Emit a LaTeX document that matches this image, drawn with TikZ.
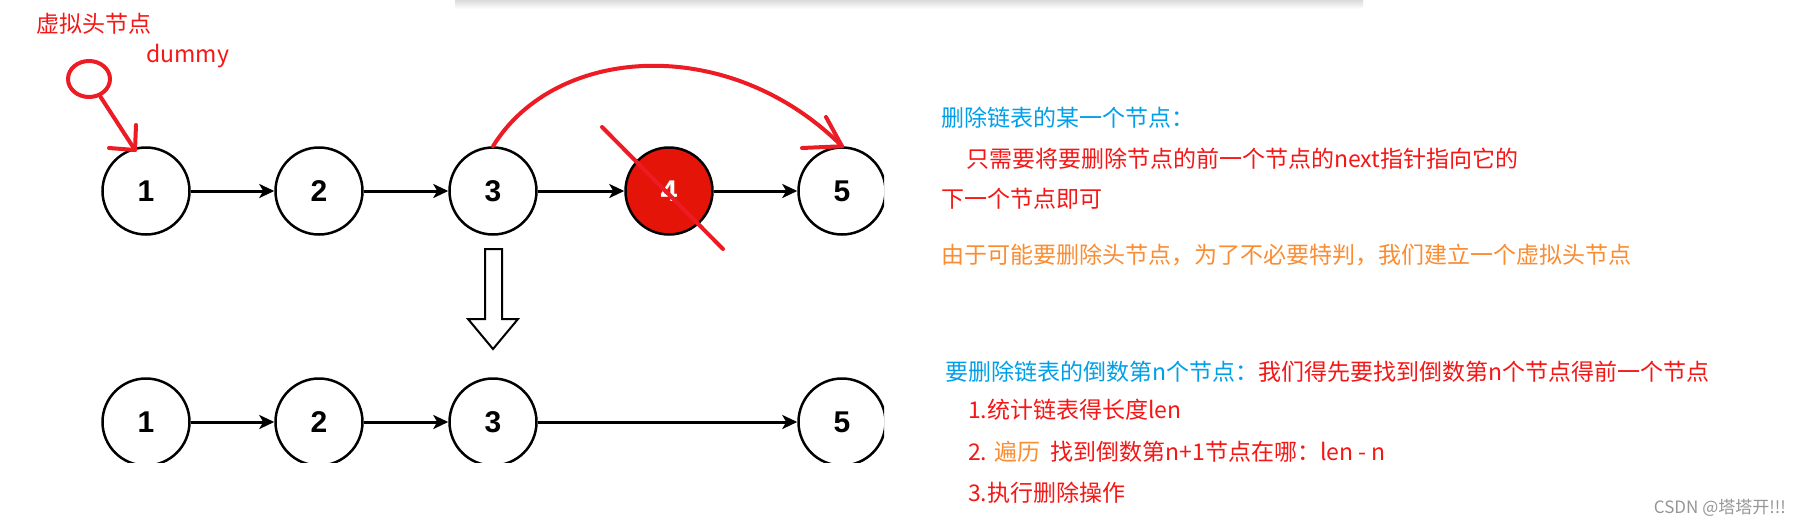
\documentclass[tikz,border=0pt]{standalone}
\usepackage{fontspec}
\newfontfamily\cjk{Noto Sans CJK SC}
\newfontfamily\arialf{Liberation Sans}
\usetikzlibrary{arrows.meta,shapes.geometric,shadings}
\definecolor{annred}{RGB}{237,28,36}
\definecolor{txtred}{RGB}{245,22,22}
\definecolor{txtblue}{RGB}{0,160,233}
\definecolor{txtorange}{RGB}{250,140,50}
\definecolor{nodered}{RGB}{228,20,8}
\definecolor{wmgray}{RGB}{150,150,150}
\tikzset{
  lnode/.style={circle, draw=black, line width=2.5pt, minimum size=87pt, inner sep=0pt, fill=white,
    font=\arialf\bfseries\fontsize{30}{30}\selectfont},
  link/.style={line width=3pt, -{Stealth[length=15pt,width=14pt,inset=4pt]}},
  txt/.style={anchor=base west, inner sep=0pt, font=\cjk\fontsize{23}{27}\selectfont},
  ann/.style={draw=annred, line width=4pt, line cap=round, line join=round},
}
\begin{document}
\begin{tikzpicture}[x=1pt,y=-1pt]
\useasboundingbox (0,0) rectangle (1803,528);
\fill[white] (0,0) rectangle (1803,528);
\shade[top color=black!14, bottom color=white] (455,0) rectangle (1363,9);

\begin{scope}
\clip (80,120) rectangle (884,462);
\node[lnode] (a1) at (146,191) {1};
\node[lnode] (a2) at (319,191) {2};
\node[lnode] (a3) at (493,191) {3};
\node[lnode, fill=nodered, text=white] (a4) at (669,191) {4};
\node[lnode] (a5) at (842,191) {5};
\draw[link] (a1) -- (a2);
\draw[link] (a2) -- (a3);
\draw[link] (a3) -- (a4);
\draw[link] (a4) -- (a5);

\node[lnode] (b1) at (146,422) {1};
\node[lnode] (b2) at (319,422) {2};
\node[lnode] (b3) at (493,422) {3};
\node[lnode] (b5) at (842,422) {5};
\draw[link] (b1) -- (b2);
\draw[link] (b2) -- (b3);
\draw[link] (b3) -- (b5);
\end{scope}

% hollow down arrow
\draw[line width=2pt, line join=miter] (485,249) -- (502,249) -- (502,319) -- (518,319) -- (493,349) -- (468,319) -- (485,319) -- cycle;

% dummy annotation
\node[ann, ellipse, minimum width=42pt, minimum height=36pt, inner sep=0pt] (dummy) at (89,79) {};
\coordinate (dtip) at (135,150);
\draw[ann] (dummy) -- (dtip);
\draw[ann] (136,125) -- (dtip) -- (109,148);
\node[txt, text=txtred] (lab1) at (36,32) {虚拟头节点};
\node[txt, text=txtred] (lab2) at (146,62) {dummy};

% skip arc
\draw[ann] (a3.north) .. controls (556,44) and (730,34) .. (a5.north);
\draw[ann] (802,148) -- (a5.north) -- (826,117);
% cross out node 4
\coordinate (x1) at (602,127);
\coordinate (x2) at (723,249);
\draw[ann] (x1) -- (x2);

% texts
\node[txt, text=txtblue] (t1) at (941,126) {删除链表的某一个节点：};
\node[txt, text=txtred] (t2) at (966,167) {只需要将要删除节点的前一个节点的next指针指向它的};
\node[txt, text=txtred] (t3) at (941,207) {下一个节点即可};
\node[txt, text=txtorange] (t4) at (941,263) {由于可能要删除头节点，为了不必要特判，我们建立一个虚拟头节点};
\node[txt, text=txtblue] (t5) at (945,380) {要删除链表的倒数第n个节点：\textcolor{txtred}{我们得先要找到倒数第n个节点得前一个节点}};
\node[txt, text=txtred] (t6) at (968,418) {1.统计链表得长度len};
\node[txt, text=txtred] (t7) at (968,460) {2. \textcolor{txtorange}{遍历}\ \ 找到倒数第n+1节点在哪：len - n};
\node[txt, text=txtred] (t8) at (968,501) {3.执行删除操作};
\node[anchor=base east, inner sep=0pt, text=wmgray, font=\cjk\fontsize{17}{20}\selectfont] (wm) at (1786,513) {CSDN @塔塔开!!!};
\end{tikzpicture}
\end{document}
